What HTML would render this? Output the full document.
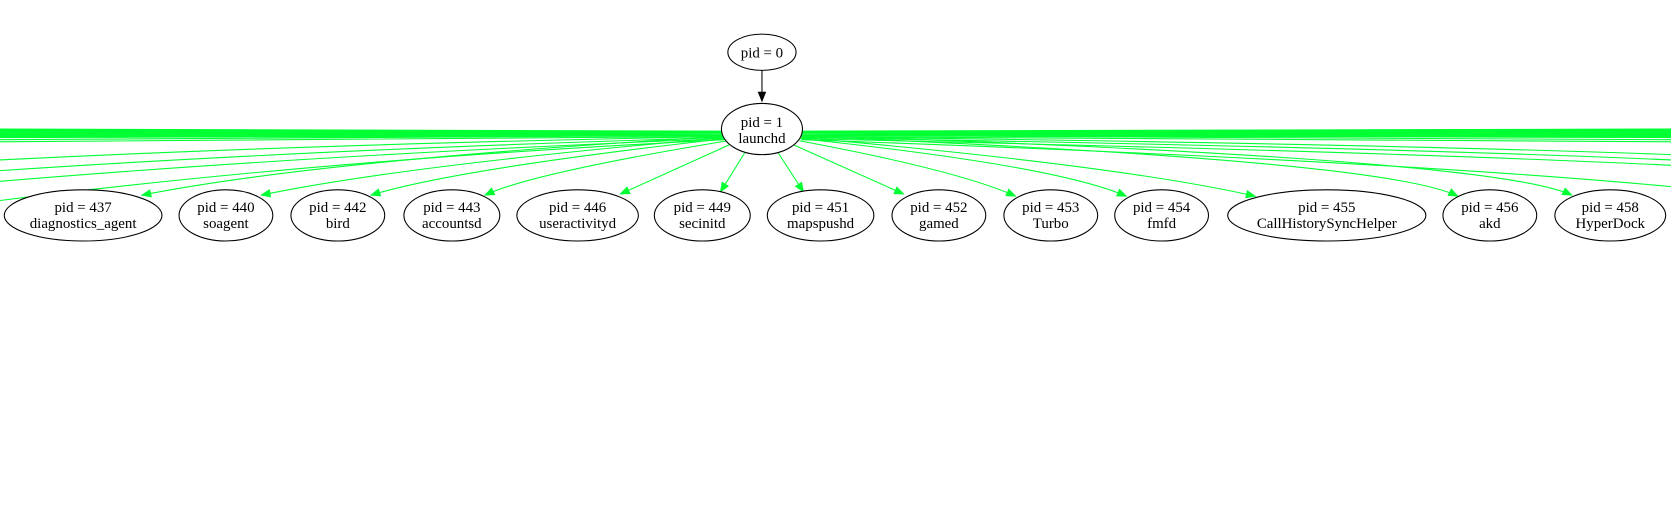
<!DOCTYPE html>
<html><head><style>body{margin:0;background:#fff}svg{display:block}</style></head><body>
<svg width="1671" height="530" viewBox="0 0 1568 497" preserveAspectRatio="none" xmlns="http://www.w3.org/2000/svg" font-family="Liberation Serif, serif" font-size="14">
<defs><marker id="g" markerWidth="10" markerHeight="8" refX="9" refY="4" orient="auto" markerUnits="userSpaceOnUse"><path d="M0,0L10,4L0,8z" fill="#00ff33"/></marker>
<marker id="k" markerWidth="10" markerHeight="8" refX="9" refY="4" orient="auto" markerUnits="userSpaceOnUse"><path d="M0,0L10,4L0,8z" fill="#000"/></marker></defs>
<g fill="none" stroke="#00ff33" stroke-width="1">
<path d="M678,123L0,121M678,123L0,122M678,124L0,123M678,124L0,124M678,125L0,125M678,125L0,126M678,126L0,127M678,126L0,128M678,127L0,129M678,127L0,131M678,128L0,133"/>
<path d="M752,123L1568,121M752,123L1568,122M752,124L1568,123M752,124L1568,124M752,125L1568,125M752,125L1568,126M752,126L1568,127M752,126L1568,128M752,127L1568,129M752,127L1568,131M752,128L1568,133"/>
<path d="M678,128Q300,135 0,150M678,129Q300,140 0,160M678,130Q300,145 0,170M680,131Q300,150 0,188"/>
<path d="M752,128Q1300,135 1568,145M752,129Q1300,138 1568,150M752,130Q1300,142 1568,155M752,131Q1300,150 1568,175"/>
<path d="M679,128Q300,150 133,183" marker-end="url(#g)"/>
<path d="M680,129Q380,155 245,183" marker-end="url(#g)"/>
<path d="M681,130Q430,158 348,183" marker-end="url(#g)"/>
<path d="M683,132Q500,162 455,183" marker-end="url(#g)"/>
<path d="M686,135L582,182" marker-end="url(#g)"/>
<path d="M699,143L676,180" marker-end="url(#g)"/>
<path d="M730,143L754,180" marker-end="url(#g)"/>
<path d="M745,136L848,182" marker-end="url(#g)"/>
<path d="M750,132Q900,160 953,184" marker-end="url(#g)"/>
<path d="M751,130Q990,155 1057,184" marker-end="url(#g)"/>
<path d="M752,129Q1050,155 1178,184" marker-end="url(#g)"/>
<path d="M752,128Q1300,150 1368,184" marker-end="url(#g)"/>
<path d="M752,127Q1400,148 1475,183" marker-end="url(#g)"/>
</g>
<path d="M715,66L715,95" stroke="#000" fill="none" marker-end="url(#k)"/>
<g fill="#fff" stroke="#000">
<ellipse cx="715" cy="49" rx="32" ry="17"/>
<ellipse cx="715" cy="121" rx="38" ry="24"/>
<ellipse cx="78" cy="202" rx="74" ry="24"/>
<ellipse cx="212" cy="202" rx="44" ry="24"/>
<ellipse cx="317" cy="202" rx="44" ry="24"/>
<ellipse cx="424" cy="202" rx="45" ry="24"/>
<ellipse cx="542" cy="202" rx="57" ry="24"/>
<ellipse cx="659" cy="202" rx="45" ry="24"/>
<ellipse cx="770" cy="202" rx="50" ry="24"/>
<ellipse cx="881" cy="202" rx="44" ry="24"/>
<ellipse cx="986" cy="202" rx="44" ry="24"/>
<ellipse cx="1090" cy="202" rx="44" ry="24"/>
<ellipse cx="1245" cy="202" rx="93" ry="24"/>
<ellipse cx="1398" cy="202" rx="44" ry="24"/>
<ellipse cx="1511" cy="202" rx="52" ry="24"/>
</g>
<g text-anchor="middle" fill="#000">
<text x="715" y="54">pid = 0</text>
<text x="715" y="119">pid = 1</text><text x="715" y="134">launchd</text>
<text x="78" y="199">pid = 437</text><text x="78" y="214">diagnostics_agent</text>
<text x="212" y="199">pid = 440</text><text x="212" y="214">soagent</text>
<text x="317" y="199">pid = 442</text><text x="317" y="214">bird</text>
<text x="424" y="199">pid = 443</text><text x="424" y="214">accountsd</text>
<text x="542" y="199">pid = 446</text><text x="542" y="214">useractivityd</text>
<text x="659" y="199">pid = 449</text><text x="659" y="214">secinitd</text>
<text x="770" y="199">pid = 451</text><text x="770" y="214">mapspushd</text>
<text x="881" y="199">pid = 452</text><text x="881" y="214">gamed</text>
<text x="986" y="199">pid = 453</text><text x="986" y="214">Turbo</text>
<text x="1090" y="199">pid = 454</text><text x="1090" y="214">fmfd</text>
<text x="1245" y="199">pid = 455</text><text x="1245" y="214">CallHistorySyncHelper</text>
<text x="1398" y="199">pid = 456</text><text x="1398" y="214">akd</text>
<text x="1511" y="199">pid = 458</text><text x="1511" y="214">HyperDock</text>
</g>
</svg>
</body></html>
